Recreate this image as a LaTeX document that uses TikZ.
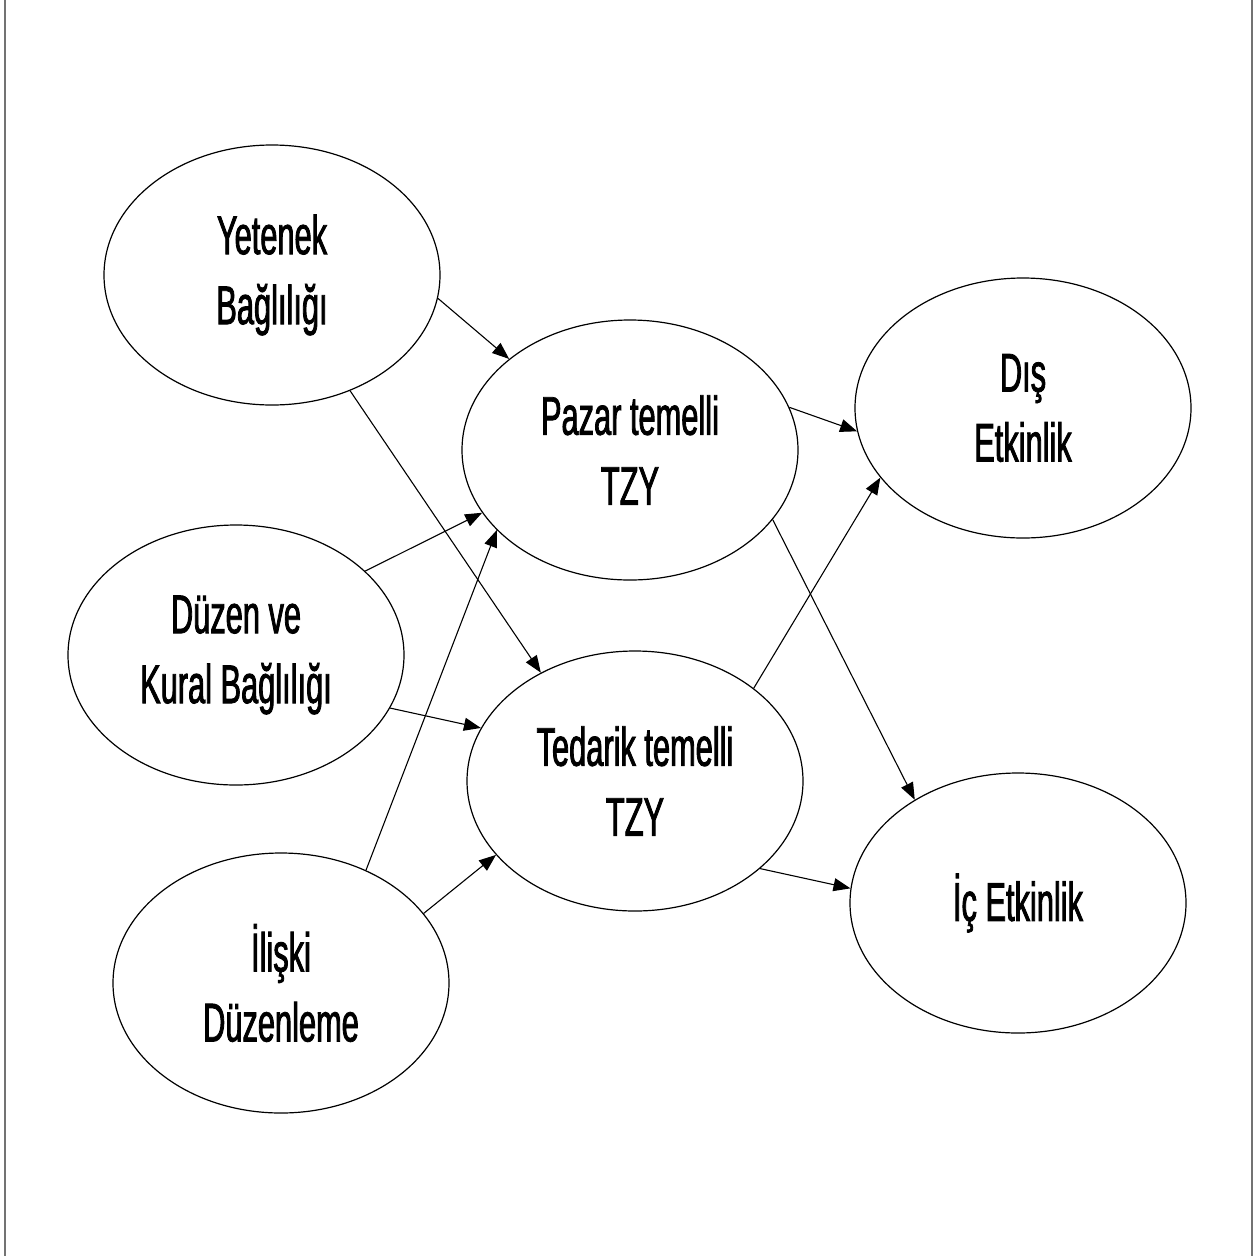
\documentclass[tikz,border=0pt]{standalone}
\usepackage{fontspec}
\setmainfont[FakeStretch=0.565,FakeBold=1.5]{Liberation Sans}
\usetikzlibrary{shapes.geometric,arrows.meta}
\begin{document}
\begin{tikzpicture}[x=1pt,y=-1pt,
  blob/.style={ellipse,draw,line width=1.2pt,minimum width=336pt,minimum height=260pt,inner sep=0pt,align=center,
    font=\fontsize{54.5}{70}\selectfont},
  link/.style={line width=1.1pt,-{Triangle[length=17pt,width=13pt]}},
  frameline/.style={draw=black!55,line width=2pt}]
\useasboundingbox (0,0) rectangle (1258,1256);
\coordinate (ftl) at (5,0);
\coordinate (fbl) at (5,1256);
\coordinate (ftr) at (1252,0);
\coordinate (fbr) at (1252,1256);
\draw[frameline] (ftl) -- (fbl);
\draw[frameline] (ftr) -- (fbr);
\node[blob] (Y) at (272,275) {Yetenek\\Bağlılığı};
\node[blob] (P) at (630,450) {Pazar temelli\\TZY};
\node[blob] (D) at (1023,408) {Dış\\Etkinlik};
\node[blob] (K) at (236,655) {Düzen ve\\Kural Bağlılığı};
\node[blob] (T) at (635,781) {Tedarik temelli\\TZY};
\node[blob] (I) at (1018,903) {İç Etkinlik};
\node[blob] (R) at (281,983) {İlişki\\Düzenleme};
\draw[link] (Y.-8.7) -- (P.143.6);
\draw[link] (Y.-56.5) -- (T.131.5);
\draw[link] (K.33.4) -- (P.203.5);
\draw[link] (R.53.5) -- (P.211.2);
\draw[link] (K.-19.2) -- (T.161.1);
\draw[link] (R.26.1) -- (T.208.7);
\draw[link] (P.15.9) -- (D.188.1);
\draw[link] (P.-26.6) -- (I.135.5);
\draw[link] (T.38.7) -- (D.206.1);
\draw[link] (T.-35) -- (I.175.7);
\end{tikzpicture}
\end{document}
